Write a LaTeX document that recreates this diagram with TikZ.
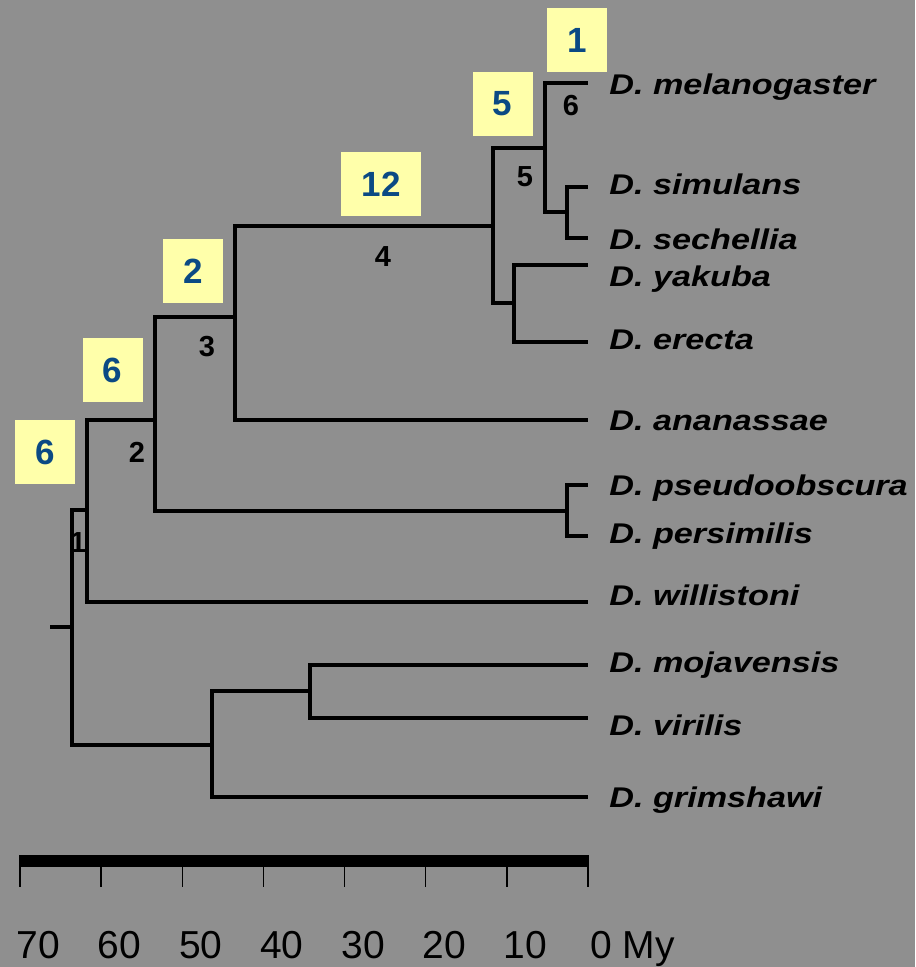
\documentclass[tikz,border=0pt]{standalone}
\usepackage{fontspec}
\setmainfont{Liberation Sans}
\usepackage{xcolor}
\definecolor{SlideGray}{HTML}{8F8F8F}
\definecolor{BoxYellow}{HTML}{FFFFAA}
\definecolor{CountBlue}{HTML}{0B4A84}
\newcommand{\spname}[1]{\scalebox{1.2}[1]{D. #1}}

\begin{document}
\begin{tikzpicture}[x=0.5pt, y=-0.5pt,
    branch/.style={line width=2.25pt},
    taxon/.style={anchor=base west, inner sep=0pt,
                  font=\fontsize{14.25}{16}\selectfont\bfseries\itshape},
    count/.style={fill=BoxYellow, text=CountBlue, inner sep=0pt,
                  minimum width=30pt, minimum height=32pt,
                  font=\fontsize{17.5}{20}\selectfont\bfseries},
    clade/.style={inner sep=0pt, font=\fontsize{14.5}{16}\selectfont\bfseries},
    scalelbl/.style={anchor=base, inner sep=0pt, font=\fontsize{19.5}{22}\selectfont}]
  \useasboundingbox (0,0) rectangle (915,967);
  \fill[SlideGray] (0,0) rectangle (915,967);

  \coordinate (stub)    at (50,627);
  \coordinate (root)    at (72,627);
  \coordinate (nWil)    at (87,510);
  \coordinate (nObs)    at (155,420);
  \coordinate (nAna)    at (235,317);
  \coordinate (nMelSub) at (493,226);
  \coordinate (nMSS)    at (545,148);
  \coordinate (nSS)     at (567,212);
  \coordinate (nYE)     at (514,303);
  \coordinate (nPP)     at (567,511);
  \coordinate (nDros)   at (212,745);
  \coordinate (nMV)     at (310,691);

  \coordinate (mel) at (588,83);
  \coordinate (sim) at (588,187);
  \coordinate (sec) at (588,238);
  \coordinate (yak) at (588,265);
  \coordinate (ere) at (588,342);
  \coordinate (ana) at (588,420);
  \coordinate (pse) at (588,485);
  \coordinate (per) at (588,536);
  \coordinate (wil) at (588,602);
  \coordinate (moj) at (588,665);
  \coordinate (vir) at (588,718);
  \coordinate (gri) at (588,797);

  \draw[branch] (stub) -- (root);
  \draw[branch] (root) |- (nWil);    \draw[branch] (root) |- (nDros);
  \draw[branch] (nWil) |- (nObs);    \draw[branch] (nWil) |- (wil);
  \draw[branch] (nObs) |- (nAna);    \draw[branch] (nObs) |- (nPP);
  \draw[branch] (nAna) |- (nMelSub); \draw[branch] (nAna) |- (ana);
  \draw[branch] (nMelSub) |- (nMSS); \draw[branch] (nMelSub) |- (nYE);
  \draw[branch] (nMSS) |- (mel);     \draw[branch] (nMSS) |- (nSS);
  \draw[branch] (nSS) |- (sim);      \draw[branch] (nSS) |- (sec);
  \draw[branch] (nYE) |- (yak);      \draw[branch] (nYE) |- (ere);
  \draw[branch] (nPP) |- (pse);      \draw[branch] (nPP) |- (per);
  \draw[branch] (nDros) |- (nMV);    \draw[branch] (nDros) |- (gri);
  \draw[branch] (nMV) |- (moj);      \draw[branch] (nMV) |- (vir);

  \node[taxon] (lmel) at (609,95)  {\spname{melanogaster}};
  \node[taxon] (lsim) at (609,195) {\spname{simulans}};
  \node[taxon] (lsec) at (609,250) {\spname{sechellia}};
  \node[taxon] (lyak) at (609,287) {\spname{yakuba}};
  \node[taxon] (lere) at (609,350) {\spname{erecta}};
  \node[taxon] (lana) at (609,430) {\spname{ananassae}};
  \node[taxon] (lpse) at (609,495) {\spname{pseudoobscura}};
  \node[taxon] (lper) at (609,543) {\spname{persimilis}};
  \node[taxon] (lwil) at (609,605) {\spname{willistoni}};
  \node[taxon] (lmoj) at (609,672) {\spname{mojavensis}};
  \node[taxon] (lvir) at (609,735) {\spname{virilis}};
  \node[taxon] (lgri) at (609,807) {\spname{grimshawi}};

  \node[count] (cMS)  at (577,40)    {1};
  \node[count] (cMSS) at (502.5,104) {5};
  \node[count, minimum width=40pt] (cMelSub) at (381,184) {12};
  \node[count] (cAna) at (193,271.5) {2};
  \node[count] (cObs) at (112.5,370) {6};
  \node[count] (cWil) at (45,452)    {6};

  \node[clade] (k6) at (571,106) {6};
  \node[clade] (k5) at (525,177) {5};
  \node[clade] (k4) at (383,257) {4};
  \node[clade] (k3) at (207,347) {3};
  \node[clade] (k2) at (137,452) {2};
  \node[clade] (k1) at (78,543)  {1};

  \fill (20,855) rectangle (588,867);
  \foreach \x/\lbl in {20/70,101.1/60,182.3/50,263.4/40,
                       344.6/30,425.7/20,506.9/10}{
    \draw[line width=0.75pt] (\x,855) -- (\x,887);
    \node[scalelbl] (t\lbl) at (\x+18.5,958) {\lbl};}
  \draw[line width=0.75pt] (588,855) -- (588,887);
  \node[scalelbl, anchor=base west] (t0) at (590,958) {0 My};
\end{tikzpicture}
\end{document}
